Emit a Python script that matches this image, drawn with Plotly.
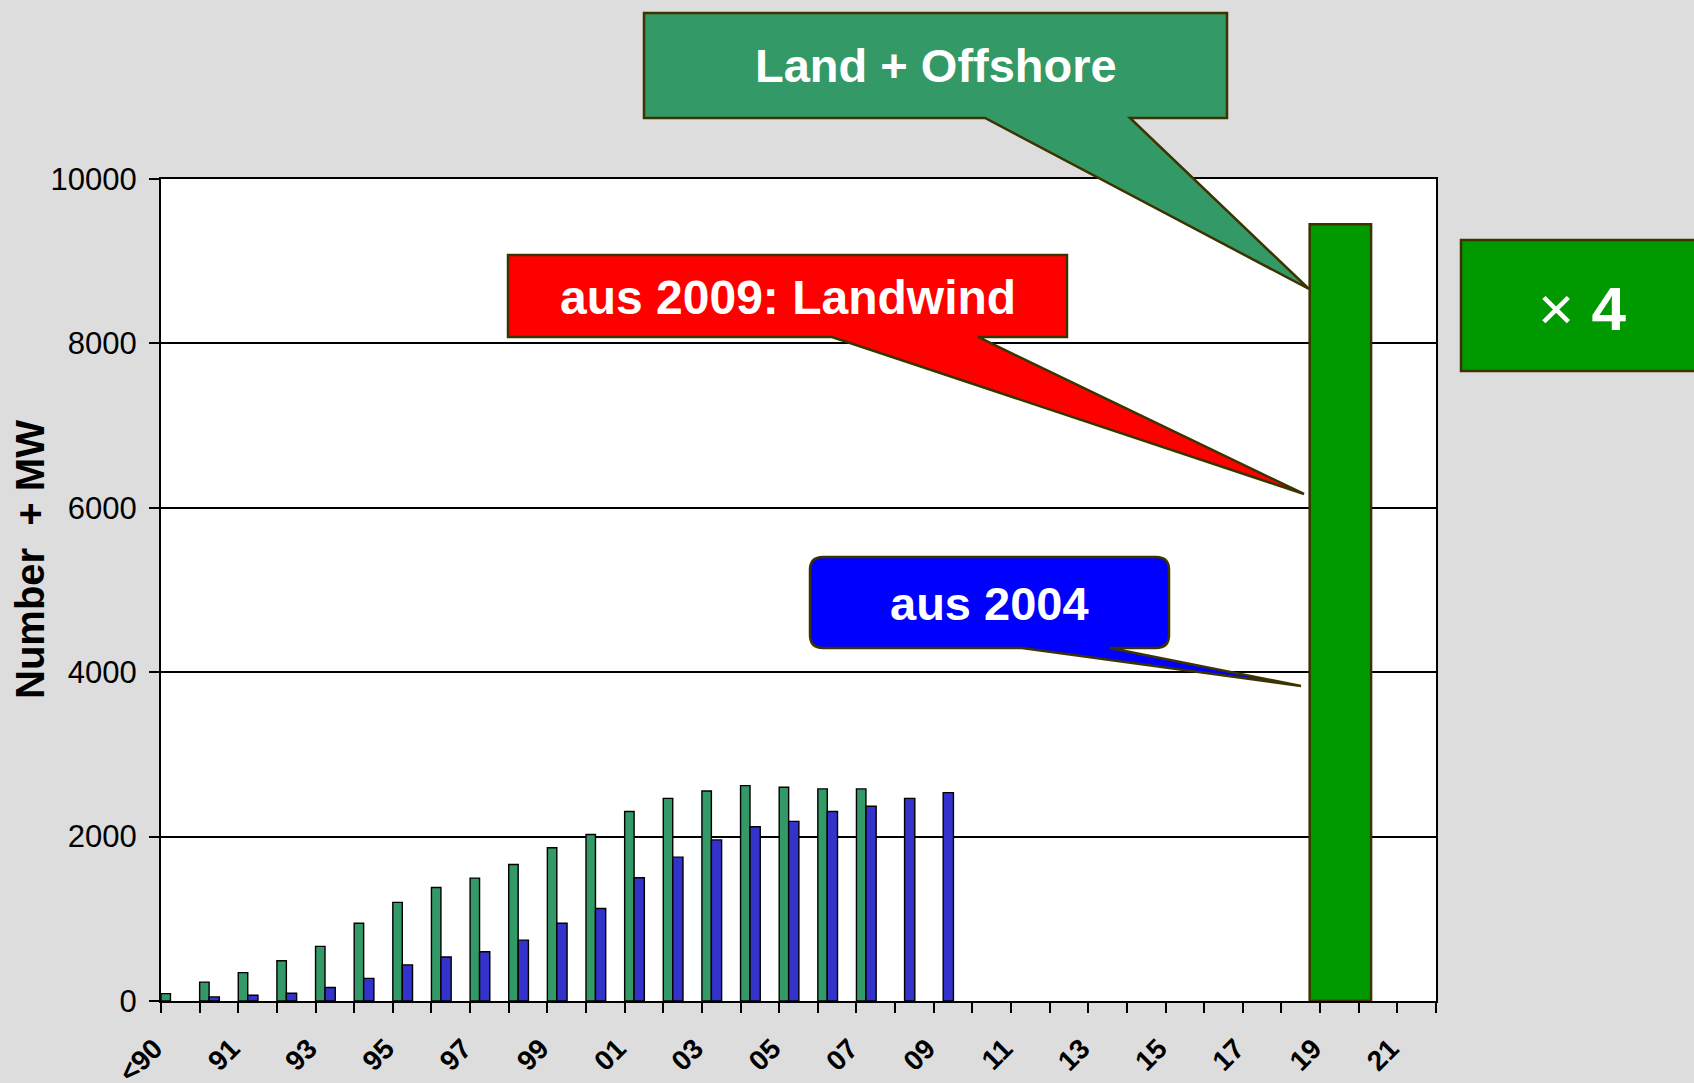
import plotly.graph_objects as go

# ---------------- data ----------------
categories = ["<90", "90", "91", "92", "93", "94", "95", "96", "97", "98", "99",
              "00", "01", "02", "03", "04", "05", "06", "07", "08", "09",
              "10", "11", "12", "13", "14", "15", "16", "17", "18", "19", "20", "21"]

number_cats = ["<90", "90", "91", "92", "93", "94", "95", "96", "97", "98", "99",
               "00", "01", "02", "03", "04", "05", "06", "07"]
number_vals = [90, 230, 345, 490, 665, 945, 1200, 1380, 1495, 1660, 1865,
               2025, 2305, 2465, 2555, 2620, 2600, 2580, 2580]

mw_cats = ["90", "91", "92", "93", "94", "95", "96", "97", "98", "99",
           "00", "01", "02", "03", "04", "05", "06", "07", "08", "09"]
mw_vals = [50, 70, 95, 165, 275, 440, 535, 600, 740, 945,
           1125, 1500, 1750, 1960, 2120, 2185, 2305, 2370, 2465, 2535]

target_cats = ["19"]
target_vals = [9450]

y_ticks = [0, 2000, 4000, 6000, 8000, 10000]
tick_labels = [c if i % 2 == 0 else "" for i, c in enumerate(categories)]

# ---------------- layout geometry ----------------
W, H = 1694, 1083
L, R, T, B = 161, 1436, 179, 1001


def fx(x):
    return (x - L) / (R - L)


def fy(y):
    return (B - y) / (B - T)


def poly(points):
    return "M " + " L ".join(f"{fx(x):.5f},{fy(y):.5f}" for x, y in points) + " Z"


def rounded_callout(x0, y0, x1, y1, r, tail):
    bl, br, tx, ty = tail
    p = lambda x, y: f"{fx(x):.5f},{fy(y):.5f}"
    s = f"M {p(x0 + r, y0)} L {p(x1 - r, y0)} Q {p(x1, y0)} {p(x1, y0 + r)} "
    s += f"L {p(x1, y1 - r)} Q {p(x1, y1)} {p(x1 - r, y1)} "
    s += f"L {p(br, y1)} L {p(tx, ty)} L {p(bl, y1)} "
    s += f"L {p(x0 + r, y1)} Q {p(x0, y1)} {p(x0, y1 - r)} "
    s += f"L {p(x0, y0 + r)} Q {p(x0, y0)} {p(x0 + r, y0)} Z"
    return s


OUT = "#3D3300"
FONT = "Liberation Sans, Arial, sans-serif"

fig = go.Figure()
fig.add_trace(go.Bar(x=number_cats, y=number_vals, name="Number",
                     offset=-0.5, width=0.245,
                     marker=dict(color="#339966", line=dict(color="black", width=1.4)),
                     hoverinfo="x+y"))
fig.add_trace(go.Bar(x=mw_cats, y=mw_vals, name="MW",
                     offset=-0.255, width=0.265,
                     marker=dict(color="#3333CC", line=dict(color="black", width=1.4)),
                     hoverinfo="x+y"))
fig.add_trace(go.Bar(x=target_cats, y=target_vals, name="Land + Offshore",
                     offset=-0.77, width=1.59,
                     marker=dict(color="#009900", line=dict(color=OUT, width=2.5)),
                     hoverinfo="x+y"))

shapes = [
    dict(type="path", xref="paper", yref="paper", layer="above",
         path=poly([(644, 13), (1227, 13), (1227, 118), (1130, 118), (1309, 289),
                    (985, 118), (644, 118)]),
         fillcolor="#339966", line=dict(color=OUT, width=2.5)),
    dict(type="path", xref="paper", yref="paper", layer="above",
         path=poly([(508, 255), (1067, 255), (1067, 337), (978, 337), (1304, 494),
                    (832, 337), (508, 337)]),
         fillcolor="#FF0000", line=dict(color=OUT, width=2.5)),
    dict(type="path", xref="paper", yref="paper", layer="above",
         path=rounded_callout(810, 557, 1169, 648, 13, (1022, 1110, 1301, 686)),
         fillcolor="#0000FF", line=dict(color=OUT, width=2.5)),
    dict(type="path", xref="paper", yref="paper", layer="above",
         path=poly([(1461, 240), (1700, 240), (1700, 371), (1461, 371)]),
         fillcolor="#009900", line=dict(color=OUT, width=2.5)),
]

annotations = [
    dict(text="<b>Land + Offshore</b>", x=fx(936), y=fy(66), xref="paper", yref="paper",
         showarrow=False, xanchor="center", yanchor="middle",
         font=dict(family=FONT, size=47, color="white")),
    dict(text="<b>aus 2009: Landwind</b>", x=fx(788), y=fy(297), xref="paper", yref="paper",
         showarrow=False, xanchor="center", yanchor="middle",
         font=dict(family=FONT, size=48, color="white")),
    dict(text="<b>aus 2004</b>", x=fx(989), y=fy(603), xref="paper", yref="paper",
         showarrow=False, xanchor="center", yanchor="middle",
         font=dict(family=FONT, size=47, color="white")),
    dict(text="× <b>4</b>", x=fx(1582), y=fy(308), xref="paper", yref="paper",
         showarrow=False, xanchor="center", yanchor="middle",
         font=dict(family=FONT, size=62, color="white")),
    dict(text="<b>Number  + MW</b>", x=fx(30), y=fy(560), xref="paper", yref="paper",
         showarrow=False, xanchor="center", yanchor="middle", textangle=-90,
         font=dict(family=FONT, size=40, color="black")),
]

fig.update_layout(
    width=W, height=H,
    margin=dict(l=L, r=W - R, t=T, b=H - B, pad=0, autoexpand=False),
    paper_bgcolor="#DDDDDD", plot_bgcolor="white",
    barmode="overlay", showlegend=False,
    shapes=shapes, annotations=annotations,
    font=dict(family=FONT, color="black"),
    xaxis=dict(type="category", categoryorder="array", categoryarray=categories,
               range=[-0.5, len(categories) - 0.5], automargin=False,
               tickmode="array", tickvals=categories, ticktext=tick_labels,
               tickson="boundaries", ticks="outside", ticklen=10, tickwidth=2,
               tickcolor="black", tickangle=-45,
               ticklabelshift=-26, ticklabelstandoff=18,
               tickfont=dict(family=FONT, size=28, color="black", weight="bold"),
               showline=True, linecolor="black", linewidth=2, mirror=True,
               showgrid=False, zeroline=False),
    yaxis=dict(range=[0, 10000], tickmode="array", tickvals=y_ticks, automargin=False,
               ticktext=[str(v) for v in y_ticks],
               ticks="outside", ticklen=10, tickwidth=2, tickcolor="black",
               tickfont=dict(family=FONT, size=31, color="black"),
               ticklabelstandoff=6,
               showgrid=True, gridcolor="black", gridwidth=1.5,
               showline=True, linecolor="black", linewidth=2, mirror=True,
               zeroline=False),
)

fig.write_html("out.html", config={"displayModeBar": False},
               post_script="document.body.style.margin='0';document.body.style.overflow='hidden';")
